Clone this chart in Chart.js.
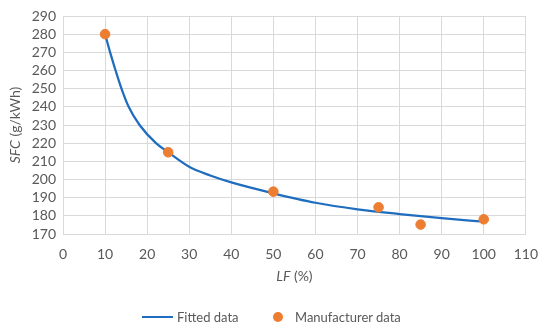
<!DOCTYPE html>
<html>
<head>
<meta charset="utf-8">
<script src="https://cdn.jsdelivr.net/npm/chart.js@4.4.1/dist/chart.umd.min.js"></script>
<style>
  html, body { margin: 0; padding: 0; background: #fff; }
  #wrap { position: relative; width: 550px; height: 332px; }
  #legend {
    position: absolute; left: 0; top: 308px; width: 550px; height: 20px;
    font-family: Lato, sans-serif; font-size: 13px; color: #595959;
  }
  #legend span { position: absolute; top: 0; line-height: 18px; white-space: nowrap; }
  .lg-line { position: absolute; top: 8px; width: 31px; height: 2px; background: #1f6dbf; }
  .lg-dot { position: absolute; top: 4px; width: 10px; height: 10px; border-radius: 50%; background: #ed7d31; }
</style>
</head>
<body>
<div id="wrap">
  <canvas id="sfcChart" width="550" height="332"></canvas>
  <div id="legend">
    <div class="lg-line" style="left:142px"></div>
    <span style="left:177px">Fitted data</span>
    <div class="lg-dot" style="left:273px"></div>
    <span style="left:295px">Manufacturer data</span>
  </div>
</div>
<script>
// fitted curve
const fittedLF = [10, 11.2, 12.5, 13.9, 15.6, 18.2, 22.1, 25, 30, 35, 40, 50, 60, 70, 80, 90, 100];
const fittedSFC = [280, 270, 260, 250, 240, 230, 220, 215, 207, 202.2, 198.4, 192.4, 187.2, 183.6, 181, 178.7, 176.8];

// manufacturer points
const makerLF = [10, 25, 50, 75, 85, 100];
const makerSFC = [280, 215, 193.3, 184.7, 175.2, 178.1];

const xTicks = [0, 10, 20, 30, 40, 50, 60, 70, 80, 90, 100, 110];
const yTicks = [170, 180, 190, 200, 210, 220, 230, 240, 250, 260, 270, 280, 290];

const textColor = '#595959';
const gridColor = '#d9d9d9';

// axis titles with italic symbol + normal unit
const axisTitles = {
    id: 'axisTitles',
    afterDraw(chart) {
        const ctx = chart.ctx;
        const area = chart.chartArea;
        const italic = 'italic 14px Lato, sans-serif';
        const normal = '14px Lato, sans-serif';
        ctx.save();
        ctx.fillStyle = textColor;
        ctx.textBaseline = 'middle';

        // x title
        ctx.font = italic;
        const w1 = ctx.measureText('LF').width;
        ctx.font = normal;
        const w2 = ctx.measureText(' (%)').width;
        let x = (area.left + area.right) / 2 - (w1 + w2) / 2;
        ctx.font = italic;
        ctx.fillText('LF', x, 276);
        ctx.font = normal;
        ctx.fillText(' (%)', x + w1, 276);

        // y title
        ctx.translate(15, (area.top + area.bottom) / 2);
        ctx.rotate(-Math.PI / 2);
        ctx.font = italic;
        const h1 = ctx.measureText('SFC').width;
        ctx.font = normal;
        const h2 = ctx.measureText(' (g/kWh)').width;
        x = -(h1 + h2) / 2;
        ctx.font = italic;
        ctx.fillText('SFC', x, 0);
        ctx.font = normal;
        ctx.fillText(' (g/kWh)', x + h1, 0);
        ctx.restore();
    }
};

const ctx = document.getElementById('sfcChart').getContext('2d');
new Chart(ctx, {
    type: 'scatter',
    data: {
        datasets: [{
            label: 'Fitted data',
            data: fittedLF.map((v, i) => ({ x: v, y: fittedSFC[i] })),
            showLine: true,
            borderColor: '#1f6dbf',
            borderWidth: 2.25,
            pointRadius: 0,
            cubicInterpolationMode: 'monotone',
            order: 2
        }, {
            label: 'Manufacturer data',
            data: makerLF.map((v, i) => ({ x: v, y: makerSFC[i] })),
            showLine: false,
            backgroundColor: '#ed7d31',
            borderColor: '#ed7d31',
            pointRadius: 4.8,
            order: 1
        }]
    },
    options: {
        responsive: false,
        animation: false,
        layout: {
            padding: { top: 16, right: 21, left: 0, bottom: 0 }
        },
        plugins: {
            legend: { display: false },
            tooltip: { enabled: false }
        },
        scales: {
            x: {
                type: 'linear',
                min: 0,
                max: 110,
                afterBuildTicks: scale => { scale.ticks = xTicks.map(v => ({ value: v })); },
                afterFit: scale => { scale.height = 98; },
                grid: { color: gridColor, drawTicks: false },
                border: { color: gridColor },
                ticks: {
                    color: textColor,
                    font: { family: 'Lato', size: 14 },
                    padding: 12,
                    maxRotation: 0,
                    autoSkip: false
                }
            },
            y: {
                min: 170,
                max: 290,
                afterBuildTicks: scale => { scale.ticks = yTicks.map(v => ({ value: v })); },
                afterFit: scale => { scale.width = 63; },
                grid: { color: gridColor, drawTicks: false },
                border: { color: gridColor },
                ticks: {
                    color: textColor,
                    font: { family: 'Lato', size: 14 },
                    padding: 7,
                    autoSkip: false
                }
            }
        }
    },
    plugins: [axisTitles]
});
</script>
</body>
</html>
